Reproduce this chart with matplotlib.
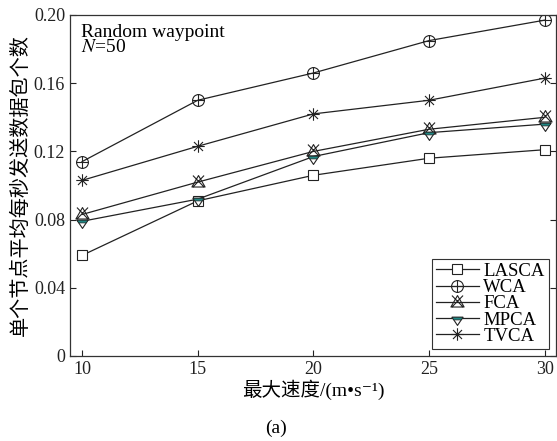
#!/usr/bin/env python3
"""
Average packets sent per node per second vs. max speed (Random waypoint, N=50)
out: out.png
"""
import numpy as np
import matplotlib
matplotlib.use("Agg")
import matplotlib.pyplot as plt
from matplotlib.path import Path
from matplotlib.legend_handler import HandlerTuple

plt.rcParams["font.family"] = ["Liberation Serif", "Noto Sans CJK SC", "DejaVu Serif"]
plt.rcParams["mathtext.fontset"] = "stix"

# data
speed = [10, 15, 20, 25, 30]
lasca = [0.059, 0.091, 0.106, 0.116, 0.121]
wca = [0.114, 0.150, 0.166, 0.185, 0.197]
fca = [0.083, 0.102, 0.120, 0.133, 0.140]
mpca = [0.079, 0.092, 0.117, 0.131, 0.136]
tvca = [0.103, 0.123, 0.142, 0.150, 0.163]
labels = ["LASCA", "WCA", "FCA", "MPCA", "TVCA"]
yticks = [0, 0.04, 0.08, 0.12, 0.16, 0.20]
yticklabels = ["0", "0.04", "0.08", "0.12", "0.16", "0.20"]

# custom markers
circ = Path.unit_circle()
cross = Path([(-1, 0), (1, 0), (0, -1), (0, 1)],
             [Path.MOVETO, Path.LINETO, Path.MOVETO, Path.LINETO])
circle_plus = Path.make_compound_path(circ, cross)

tri = Path([(0, 1), (-0.95, -0.65), (0.95, -0.65), (0, 1)],
           [Path.MOVETO, Path.LINETO, Path.LINETO, Path.CLOSEPOLY])
xx = Path([(-0.8, -0.65), (0.8, 1.0), (-0.8, 1.0), (0.8, -0.65)],
          [Path.MOVETO, Path.LINETO, Path.MOVETO, Path.LINETO])
tri_x = Path.make_compound_path(tri, xx)

d = 0.72
star = Path([(-1, 0), (1, 0), (0, -1), (0, 1), (-d, -d), (d, d), (-d, d), (d, -d)],
            [Path.MOVETO, Path.LINETO] * 4)

# down triangle sitting below the point, teal band across its top
tri_dn = Path([(-0.95, 0.22), (0.95, 0.22), (0, -1.2), (-0.95, 0.22)],
              [Path.MOVETO, Path.LINETO, Path.LINETO, Path.CLOSEPOLY])
band = Path([(-0.95, 0.22), (0.95, 0.22), (0.63, -0.25), (-0.63, -0.25), (-0.95, 0.22)],
            [Path.MOVETO, Path.LINETO, Path.LINETO, Path.LINETO, Path.CLOSEPOLY])

lc = "#222222"
teal = "#1f8783"
ms_tri = 10
ms_band = ms_tri * 0.95 / 1.2   # markers get normalised by their max extent

fig = plt.figure(figsize=(5.57, 4.41), dpi=100)
ax = fig.add_axes([70/557, 1-356/441, 486/557, 341/441])

kw = dict(color=lc, lw=0.9, mec=lc, mew=0.8)
h1, = ax.plot(speed, lasca, marker="s", ms=7.5, mfc="white", **kw)
h2, = ax.plot(speed, wca, marker=circle_plus, ms=8.5, mfc="none", **kw)
h3, = ax.plot(speed, fca, marker=tri_x, ms=10, mfc="none", **kw)
h4, = ax.plot(speed, mpca, marker=tri_dn, ms=ms_tri, mfc="white", **kw)
h4b, = ax.plot(speed, mpca, ls="none", marker=band, ms=ms_band, mfc=teal, mec=lc, mew=0.5)
h5, = ax.plot(speed, tvca, marker=star, ms=9, mfc="none", **kw)

ax.set_xlim(9.48, 30.48)
ax.set_ylim(0, 0.20)
ax.set_xticks(speed)
ax.set_xticklabels([str(s) for s in speed])
ax.set_yticks(yticks)
ax.set_yticklabels(yticklabels)
ax.tick_params(direction="in", length=4, width=0.8, labelsize=13,
               right=True, top=False, colors="#222222")
for s in ax.spines.values():
    s.set_linewidth(0.9)
    s.set_color("#333333")

ax.set_xlabel("最大速度/(m•s⁻¹)", fontsize=14, labelpad=1)
ax.set_ylabel("单个节点平均每秒发送数据包个数", fontsize=14.5, labelpad=2)

ax.text(0.022, 0.975, "Random waypoint\n$N$=50", transform=ax.transAxes,
        ha="left", va="top", fontsize=14, linespacing=0.9)

leg = ax.legend(handles=[h1, h2, h3, (h4, h4b), h5], labels=labels,
                handler_map={tuple: HandlerTuple(ndivide=1, pad=0)},
                loc="lower right", fontsize=13.5,
                fancybox=False, edgecolor="#333333", framealpha=1,
                handlelength=2.3, handletextpad=0.25, labelspacing=-0.05,
                borderpad=0.2, borderaxespad=0.4)
leg.get_frame().set_linewidth(0.8)

fig.text(276/557, 1-428/441, "(a)", ha="center", va="center", fontsize=14)

fig.savefig("out.png", dpi=100)
